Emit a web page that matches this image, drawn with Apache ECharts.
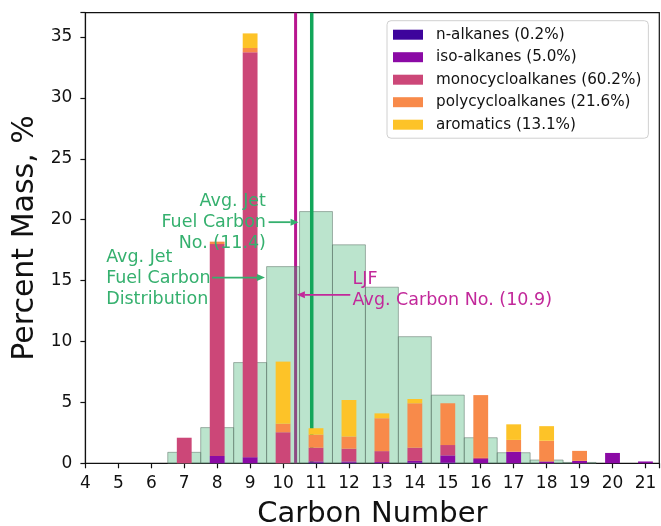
<!DOCTYPE html>
<html><head><meta charset="utf-8">
<script src="https://cdn.jsdelivr.net/npm/echarts@6/dist/echarts.min.js"></script>
<style>html,body{margin:0;padding:0;background:#fff}#c{width:661px;height:526px}</style>
</head><body><div id="c"></div>
<script>
// ---- data ----
const carbons   = [7, 8, 9, 10, 11, 12, 13, 14, 15, 16, 17, 18, 19, 20, 21];
const nAlkanes  = [0, 0, 0, 0, 0.05, 0.05, 0, 0.05, 0.05, 0, 0, 0, 0, 0, 0];
const isoAlkanes= [0, 0.6, 0.5, 0, 0.1, 0.1, 0.1, 0.15, 0.6, 0.35, 0.95, 0.15, 0.2, 0.85, 0.15];
const monoCyclo = [2.1, 17.4, 33.25, 2.55, 1.13, 1.05, 0.9, 1.08, 0.85, 0.1, 0, 0, 0, 0, 0];
const polyCyclo = [0, 0.2, 0.35, 0.7, 1.07, 1.0, 2.7, 3.65, 3.43, 5.15, 0.97, 1.7, 0.82, 0, 0];
const aromatics = [0, 0, 1.2, 5.1, 0.53, 3.0, 0.4, 0.35, 0, 0, 1.28, 1.2, 0, 0, 0];
const seriesNames = ['n-alkanes (0.2%)', 'iso-alkanes (5.0%)', 'monocycloalkanes (60.2%)', 'polycycloalkanes (21.6%)', 'aromatics (13.1%)'];

const jetCarbons = [7, 8, 9, 10, 11, 12, 13, 14, 15, 16, 17, 18, 19];
const jetDist    = [0.9, 2.93, 8.27, 16.15, 20.67, 17.94, 14.46, 10.4, 5.6, 2.1, 0.87, 0.27, 0.07];

const ljfAvgLineX = 10.38;   // drawn position of LJF average line
const jetAvgLineX = 10.87;   // drawn position of jet fuel average line
const xTicks = [4,5,6,7,8,9,10,11,12,13,14,15,16,17,18,19,20,21];
const yTicks = [0,5,10,15,20,25,30,35];

// ---- styles ----
const FONT = 'DejaVu Sans';
const colors = ['#3e049c', '#8b0aa5', '#cc4778', '#f88a4a', '#fdc328'];
const GREEN_TXT = '#35b06e', MAG_TXT = '#c2289a';
const GREEN_LINE = '#12a65a', MAG_LINE = '#b8168f';

const comps = [nAlkanes, isoAlkanes, monoCyclo, polyCyclo, aromatics];
const bottoms = carbons.map(() => 0);
const barSeries = comps.map((arr, k) => {
  const data = carbons.map((c, i) => {
    const b = bottoms[i], t = b + arr[i];
    bottoms[i] = t;
    return [c, b, t];
  });
  return {
    name: seriesNames[k], type: 'custom', z: 5,
    itemStyle: { color: colors[k] },
    encode: { x: 0, y: [1, 2] },
    data: data,
    renderItem: function (params, api) {
      const c = api.value(0), b = api.value(1), t = api.value(2);
      if (t - b <= 0) return null;
      const p0 = api.coord([c - 0.225, t]);
      const p1 = api.coord([c + 0.225, b]);
      return { type: 'rect', shape: { x: p0[0], y: p0[1], width: p1[0] - p0[0], height: p1[1] - p0[1] },
        style: { fill: colors[k] } };
    }
  };
});

const chart = echarts.init(document.getElementById('c'), null, { renderer: 'canvas' });
const option = {
  animation: false,
  backgroundColor: '#fff',
  textStyle: { fontFamily: FONT },
  grid: { left: 85.4, top: 12.7, right: 1.7, bottom: 62.7, outerBoundsMode: 'none', containLabel: false,
    show: true, borderColor: '#111', borderWidth: 1.2, backgroundColor: 'transparent' },
  legend: {
    data: seriesNames, orient: 'vertical', left: 387, top: 20.7,
    icon: 'rect', itemWidth: 30, itemHeight: 10, itemGap: 7.5,
    padding: [6.5, 7, 6, 6],
    backgroundColor: '#fff', borderColor: '#d0d0d0', borderWidth: 1, borderRadius: 4,
    selectedMode: false,
    textStyle: { fontFamily: FONT, fontSize: 15.2, color: '#111', lineHeight: 15, padding: [0, 0, 0, 8] }
  },
  xAxis: {
    type: 'value', min: 4, max: 21.42, interval: 1,
    name: 'Carbon Number', nameLocation: 'middle', nameGap: 37,
    nameTextStyle: { fontFamily: FONT, fontSize: 29, color: '#111' },
    axisLine: { show: true, onZero: false, lineStyle: { color: '#111', width: 1.2 } },
    axisTick: { show: true, inside: false, length: 5, lineStyle: { color: '#111', width: 1.2 } },
    axisLabel: { margin: 12, fontFamily: FONT, fontSize: 17, color: '#111',
      formatter: v => (xTicks.indexOf(v) >= 0 ? String(v) : '') },
    splitLine: { show: false }
  },
  yAxis: {
    type: 'value', min: 0, max: 37, interval: 5,
    name: 'Percent Mass, %', nameLocation: 'middle', nameGap: 42,
    nameTextStyle: { fontFamily: FONT, fontSize: 30, color: '#111' },
    axisLine: { show: true, lineStyle: { color: '#111', width: 1.2 } },
    axisTick: { show: true, inside: false, length: 5, lineStyle: { color: '#111', width: 1.2 } },
    axisLabel: { margin: 13, fontFamily: FONT, fontSize: 17, color: '#111',
      formatter: v => (yTicks.indexOf(v) >= 0 ? String(v) : '') },
    splitLine: { show: false }
  },
  series: [
    { name: 'ljfLine', type: 'line', z: 1, symbol: 'none', silent: true,
      data: [[ljfAvgLineX, 0], [ljfAvgLineX, 37]], lineStyle: { color: MAG_LINE, width: 3 } },
    { name: 'jetDist', type: 'custom', z: 2, silent: true,
      encode: { x: 0, y: 1 },
      data: jetCarbons.map((c, i) => [c, jetDist[i]]),
      renderItem: function (params, api) {
        const c = api.value(0), v = api.value(1);
        const p0 = api.coord([c - 0.5, v]);
        const p1 = api.coord([c + 0.5, 0]);
        return { type: 'rect', shape: { x: p0[0], y: p0[1], width: p1[0] - p0[0], height: p1[1] - p0[1] },
          style: { fill: 'rgba(60,179,113,0.35)', stroke: 'rgba(90,110,100,0.5)', lineWidth: 1 } };
      } },
    { name: 'jetLine', type: 'line', z: 3, symbol: 'none', silent: true,
      data: [[jetAvgLineX, 0], [jetAvgLineX, 37]], lineStyle: { color: GREEN_LINE, width: 3.5 } }
  ].concat(barSeries)
};
chart.setOption(option);

// ---- annotations (anchored in data coordinates) ----
const notes = [
  { text: 'Avg. Jet\nFuel Carbon\nNo. (11.4)', at: [9.48, 19.76], align: 'right', color: GREEN_TXT },
  { text: 'Avg. Jet\nFuel Carbon\nDistribution', at: [4.63, 15.2], align: 'left', color: GREEN_TXT },
  { text: 'LJF\nAvg. Carbon No. (10.9)', at: [12.11, 14.2], align: 'left', color: MAG_TXT }
];
const arrows = [
  { from: [9.56, 19.8], to: [10.47, 19.8], color: GREEN_TXT },
  { from: [7.85, 15.25], to: [9.45, 15.25], color: GREEN_TXT },
  { from: [12.04, 13.83], to: [10.42, 13.83], color: MAG_TXT }
];
const g = [];
notes.forEach(n => {
  const p = chart.convertToPixel({ gridIndex: 0 }, n.at);
  g.push({ type: 'text', x: p[0], y: p[1], z: 20, silent: true,
    style: { text: n.text, fill: n.color, font: '17.5px "' + FONT + '"', align: n.align, verticalAlign: 'middle', lineHeight: 21 } });
});
arrows.forEach(a => {
  const p1 = chart.convertToPixel({ gridIndex: 0 }, a.from);
  const p2 = chart.convertToPixel({ gridIndex: 0 }, a.to);
  const dx = p2[0] - p1[0], dy = p2[1] - p1[1], L = Math.hypot(dx, dy);
  const ux = dx / L, uy = dy / L, hl = 8, hw = 3.5;
  const bx = p2[0] - ux * hl, by = p2[1] - uy * hl;
  g.push({ type: 'line', z: 20, silent: true, shape: { x1: p1[0], y1: p1[1], x2: bx, y2: by }, style: { stroke: a.color, lineWidth: 1.8 } });
  g.push({ type: 'polygon', z: 20, silent: true, shape: { points: [[p2[0], p2[1]], [bx - uy * hw, by + ux * hw], [bx + uy * hw, by - ux * hw]] }, style: { fill: a.color } });
});
chart.setOption({ graphic: g });
</script></body></html>
